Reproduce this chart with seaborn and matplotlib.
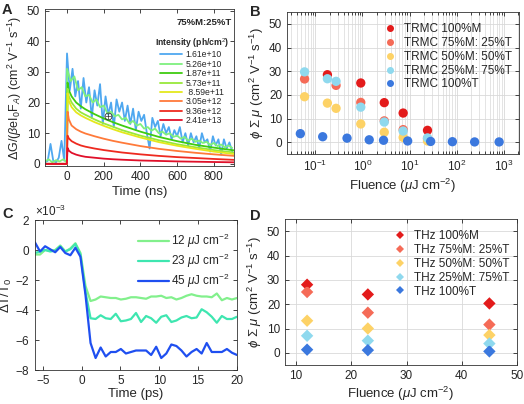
import numpy as np
import pandas as pd
import matplotlib
matplotlib.use("Agg")
import matplotlib.pyplot as plt
import seaborn as sns

# ---------------- Panel A data (TRMC transients, 75%M:25%T) ----------------
smooth_t = [-120, -1, 3, 10, 25, 50, 75, 100, 150, 200, 250, 300, 400, 500, 600, 700, 800, 910]
a_187e11 = [0, 0, 26.5, 24, 22, 20, 18.8, 17.8, 16.2, 14.8, 13.6, 12.5, 10.5, 8.8, 7.4, 6.2, 5.3, 4.4]
a_573e11 = [0, 0, 24.5, 22, 20, 18, 16.8, 16.0, 14.5, 13.2, 12.1, 11.0, 9.2, 7.7, 6.4, 5.4, 4.5, 3.7]
a_859e11 = [0, 0, 23, 20.5, 18.5, 16.8, 15.8, 15.0, 13.6, 12.4, 11.3, 10.3, 8.6, 7.1, 5.9, 4.9, 4.0, 3.2]
a_305e12 = [0, 0, 17, 14.5, 12.5, 11.3, 10.5, 9.9, 9.0, 8.2, 7.5, 6.9, 5.8, 4.9, 4.2, 3.6, 3.1, 2.6]
a_936e12 = [0, 0, 9.2, 8.3, 7.4, 6.6, 6.0, 5.6, 5.0, 4.5, 4.1, 3.7, 3.1, 2.6, 2.2, 1.9, 1.6, 1.3]
a_241e13 = [0, 0, 5.2, 4.3, 3.6, 3.0, 2.6, 2.3, 2.0, 1.7, 1.5, 1.35, 1.1, 0.95, 0.8, 0.7, 0.6, 0.5]

green_t = [-120, -100, -80, -60, -40, -20, -1,
           0, 20, 40, 60, 80, 100, 120, 140, 160, 180, 200, 220, 240, 260, 280, 300,
           320, 340, 360, 380, 400, 420, 440, 460, 480, 500, 520, 540, 560, 580, 600,
           620, 640, 660, 680, 700, 720, 740, 760, 780, 800, 820, 840, 860, 880, 900]
a_526e10 = [0.8, 1.5, 0.5, 1.2, 0.8, 1.5, 0.5,
            31, 27, 28.5, 24, 25, 22, 22.5, 20, 21, 18.5, 19, 16.5, 17, 15.5, 16, 14.5,
            15, 13.2, 14, 12.5, 13, 11.5, 12, 10.8, 11.5, 10, 10.5, 9.5, 10, 8.8, 9.2,
            8.2, 8.8, 7.6, 8.2, 7.2, 7.6, 6.8, 7.2, 6.2, 6.8, 5.8, 6.3, 5.4, 6.0, 5.2]

blue_t = [-120, -105, -90, -75, -60, -45, -30, -15,
          0, 15, 30, 45, 60, 75, 90, 105, 120, 135, 150, 165, 180, 195, 210, 225,
          240, 255, 270, 285, 300, 315, 330, 345, 360, 375, 390, 405, 420, 435, 450,
          465, 480, 495, 510, 525, 540, 555, 570, 585, 600, 615, 630, 645, 660, 675,
          690, 705, 720, 735, 750, 765, 780, 795, 810, 825, 840, 855, 870, 885, 900]
a_161e10 = [0.5, 1, 6.5, 1, 0.5, 2, 7.5, 1,
            36, 24, 31, 22, 27, 18, 28, 20, 25, 15, 24, 19, 26, 13, 22, 16,
            20, 12, 21, 17, 20, 14, 19, 13, 18, 11, 17, 14, 16, 10, 5,
            15, 12, 14, 9, 13, 10, 12, 8, 11, 9, 12, 7, 10, 6, 10,
            7, 9, 5, 10, 7, 8, 4, 9, 6, 8, 3, 8, 5, 7, 4]

intensity_labels = ["1.61e+10", "5.26e+10", "1.87e+11", "5.73e+11",
                    " 8.59e+11", "3.05e+12", "9.36e+12", "2.41e+13"]
intensity_colors = ["#4fa8f0", "#7ef07e", "#3fcc10", "#98e83a",
                    "#e4e81c", "#ff7a3a", "#ee2a20", "#e0102a"]

# ---------------- Panel B data (TRMC vs fluence) ----------------
samples = ["100%M", "75%M: 25%T", "50%M: 50%T", "25%M: 75%T", "100%T"]
sample_colors = ["#e31b1b", "#f56b57", "#fdd266", "#8fd9ee", "#3b78de"]
b_fluence = {
    "100%M": [0.18, 0.92, 2.9, 7.3, 24],
    "75%M: 25%T": [0.059, 0.275, 0.92, 2.9, 7.3, 24],
    "50%M: 50%T": [0.059, 0.18, 0.275, 0.92, 2.9, 7.3, 24],
    "25%M: 75%T": [0.059, 0.18, 0.275, 0.92, 2.9, 7.3, 24],
    "100%T": [0.048, 0.143, 0.47, 1.39, 2.8, 9.1, 28, 81, 240, 795],
}
b_mobility = {
    "100%M": [28.5, 25, 16.7, 12.3, 5],
    "75%M: 25%T": [26.7, 24, 16.8, 9, 5.3, 1.5],
    "50%M: 50%T": [19.2, 16.5, 14.3, 7.7, 4.2, 2, 0.5],
    "25%M: 75%T": [29.7, 26.8, 25.7, 14.8, 8.5, 4.7, 1.8],
    "100%T": [3.6, 2.3, 1.7, 1.0, 0.8, 0.5, 0.3, 0.2, 0.1, 0.1],
}

# ---------------- Panel C data (THz transients) ----------------
c_time = [-6.0, -5.35, -4.7, -4.05, -3.4, -2.75, -2.1, -1.45, -0.8, -0.15, 0.5, 1.15,
          1.8, 2.45, 3.1, 3.75, 4.4, 5.05, 5.7, 6.35, 7.0, 7.65, 8.3, 8.95, 9.6, 10.25,
          10.9, 11.55, 12.2, 12.85, 13.5, 14.15, 14.8, 15.45, 16.1, 16.75, 17.4, 18.05,
          18.7, 19.35, 20.0]
c_12 = [-0.3, -0.3, 0.0, -0.05, 0.0, 0.3, -0.1, 0.1, 0.45, -0.2, -2.4, -3.4,
        -3.3, -3.1, -3.15, -3.2, -3.2, -3.3, -3.25, -3.15, -3.15, -3.2, -3.25, -3.1, -3.1, -3.05,
        -3.2, -3.15, -3.3, -3.2, -3.05, -2.95, -3.05, -3.1, -3.1, -3.15, -2.9, -3.35,
        -3.2, -3.3, -3.2]
c_23 = [-0.2, -0.1, 0.0, -0.1, -0.05, 0.25, -0.1, 0.05, 0.4, -0.3, -2.8, -4.55,
        -4.6, -4.35, -4.55, -4.6, -4.25, -4.75, -4.7, -4.6, -4.2, -4.8, -4.4, -4.55, -4.85, -4.45,
        -4.35, -4.8, -4.7, -4.5, -4.4, -4.55, -4.5, -3.95, -4.15, -4.45, -4.85, -4.4,
        -4.6, -4.6, -4.45]
c_45 = [0.5, -0.1, 0.25, 0.05, -0.15, 0.2, -0.2, -0.35, 0.15, -0.45, -3.0, -6.2,
        -7.2, -6.5, -7.1, -6.8, -6.8, -6.6, -6.9, -6.8, -6.7, -6.7, -6.7, -7.0, -6.45, -7.2,
        -6.9, -6.3, -6.4, -6.7, -7.1, -6.8, -6.6, -6.9, -6.2, -6.8, -6.8, -6.8,
        -6.6, -6.85, -7.0]
c_labels = ["12 $\\mu$J cm$^{-2}$", "23 $\\mu$J cm$^{-2}$", "45 $\\mu$J cm$^{-2}$"]
c_colors = ["#82f08c", "#3ee6b0", "#1f4ff0"]

# ---------------- Panel D data (THz mobility vs fluence) ----------------
d_fluence = [12, 23, 45]
d_mobility = {
    "100%M": [28, 24, 20.3],
    "75%M: 25%T": [25, 16.5, 11.6],
    "50%M: 50%T": [13.2, 10, 7.3],
    "25%M: 75%T": [7, 5, 3.8],
    "100%T": [1.3, 1.1, 0.6],
}

sns.set_style("ticks")
plt.rcParams["font.family"] = ["Liberation Sans", "DejaVu Sans"]
plt.rcParams["mathtext.fontset"] = "custom"
plt.rcParams["mathtext.rm"] = "Liberation Sans"
plt.rcParams["mathtext.it"] = "Liberation Sans:italic"
plt.rcParams["axes.edgecolor"] = "0.2"
plt.rcParams["axes.linewidth"] = 0.6
plt.rcParams["xtick.direction"] = "in"
plt.rcParams["ytick.direction"] = "in"
plt.rcParams["xtick.top"] = True
plt.rcParams["ytick.right"] = True
plt.rcParams["xtick.major.size"] = 3
plt.rcParams["ytick.major.size"] = 3
plt.rcParams["xtick.major.width"] = 0.6
plt.rcParams["ytick.major.width"] = 0.6
plt.rcParams["xtick.labelsize"] = 8.5
plt.rcParams["ytick.labelsize"] = 8.5
plt.rcParams["xtick.color"] = "0.15"
plt.rcParams["ytick.color"] = "0.15"

W, H = 524, 404
fig = plt.figure(figsize=(W / 100, H / 100), dpi=100)


def box(l, t, r, b):
    return [l / W, 1 - b / H, (r - l) / W, (b - t) / H]


axA = fig.add_axes(box(45, 9, 234, 166))
axB = fig.add_axes(box(287, 12, 519, 154))
axC = fig.add_axes(box(35, 220, 237, 370))
axD = fig.add_axes(box(285, 219, 517, 365))

# ----- A -----
rows = []
for t, v in zip(blue_t, a_161e10):
    rows.append((t, v, intensity_labels[0]))
for t, v in zip(green_t, a_526e10):
    rows.append((t, v, intensity_labels[1]))
for lab, ser in zip(intensity_labels[2:], [a_187e11, a_573e11, a_859e11, a_305e12, a_936e12, a_241e13]):
    for t, v in zip(smooth_t, ser):
        rows.append((t, v, lab))
dfA = pd.DataFrame(rows, columns=["time", "signal", "intensity"])
sns.lineplot(data=dfA, x="time", y="signal", hue="intensity", hue_order=intensity_labels,
             palette=intensity_colors, sort=False, estimator=None, lw=1.3, ax=axA)
axA.plot([225], [15.5], marker="o", ms=5, mfc="none", mec="0.2", mew=0.6)
axA.plot([225], [15.5], marker="+", ms=5, mec="0.2", mew=0.5)
axA.set_xlim(-120, 910)
axA.set_ylim(-0.7, 50.5)
axA.set_xticks([0, 200, 400, 600, 800])
axA.set_yticks([0, 10, 20, 30, 40, 50])
axA.set_xlabel("Time (ns)", fontsize=9.5, labelpad=2)
axA.set_ylabel("$\\Delta$G/($\\beta$eI$_0$F$_A$) (cm$^2$ V$^{-1}$ s$^{-1}$)", fontsize=9, labelpad=2)
legA = axA.legend(title="Intensity (ph/cm$^2$)", loc="upper right", bbox_to_anchor=(1.0, 0.86),
                  frameon=False, fontsize=6.2, title_fontsize=6.2, handlelength=2.6,
                  labelspacing=0.05, handletextpad=0.4, borderaxespad=0.2)
legA.get_title().set_fontweight("bold")
axA.text(0.84, 0.885, "75%M:25%T", transform=axA.transAxes, fontsize=6.8,
         fontweight="bold", ha="center", va="bottom")

# ----- B -----
rows = []
for s in samples:
    for f, m in zip(b_fluence[s], b_mobility[s]):
        rows.append((f, m, "TRMC " + s))
dfB = pd.DataFrame(rows, columns=["fluence", "mobility", "sample"])
sns.scatterplot(data=dfB, x="fluence", y="mobility", hue="sample",
                hue_order=["TRMC " + s for s in samples], palette=sample_colors,
                s=45, linewidth=0, ax=axB)
axB.set_xscale("log")
axB.set_xlim(0.025, 2100)
axB.set_ylim(-5, 55)
axB.set_yticks([0, 10, 20, 30, 40, 50])
axB.grid(True, which="major", color="0.85", lw=0.6)
axB.grid(True, which="minor", axis="x", color="0.85", lw=0.5)
axB.set_xlabel("Fluence ($\\mu$J cm$^{-2}$)", fontsize=9.5, labelpad=2)
axB.set_ylabel("$\\phi$ $\\Sigma$ $\\mu$ (cm$^2$ V$^{-1}$ s$^{-1}$)", fontsize=9.5, labelpad=2)
axB.legend(loc="upper right", bbox_to_anchor=(1.0, 0.97), frameon=False, fontsize=8.5,
           labelspacing=0.15, handletextpad=0.2, borderaxespad=0.2, markerscale=0.75)

# ----- C -----
rows = []
for lab, ser in zip(c_labels, [c_12, c_23, c_45]):
    for t, v in zip(c_time, ser):
        rows.append((t, v * 1e-3, lab))
dfC = pd.DataFrame(rows, columns=["time", "dT", "fluence"])
sns.lineplot(data=dfC, x="time", y="dT", hue="fluence", hue_order=c_labels,
             palette=c_colors, sort=False, estimator=None, lw=1.6, ax=axC)
axC.set_xlim(-6, 20)
axC.set_ylim(-8e-3, 2e-3)
axC.set_xticks([-5, 0, 5, 10, 15, 20])
axC.set_yticks([-8e-3, -6e-3, -4e-3, -2e-3, 0, 2e-3])
axC.ticklabel_format(axis="y", style="sci", scilimits=(-3, -3), useMathText=True)
axC.yaxis.get_offset_text().set_fontsize(8.5)
axC.set_xlabel("Time (ps)", fontsize=9.5, labelpad=1)
axC.set_ylabel("$\\Delta$T/T$_0$", fontsize=9.5, labelpad=1)
axC.legend(loc="upper right", bbox_to_anchor=(1.0, 0.97), frameon=False, fontsize=8.5,
           handlelength=2.6, labelspacing=0.15, handletextpad=0.2, borderaxespad=0.2)

# ----- D -----
rows = []
for s in samples:
    for f, m in zip(d_fluence, d_mobility[s]):
        rows.append((f, m, "THz " + s))
dfD = pd.DataFrame(rows, columns=["fluence", "mobility", "sample"])
for s, c in zip(samples, sample_colors):
    sub = dfD[dfD["sample"] == "THz " + s]
    axD.errorbar(sub["fluence"], sub["mobility"], yerr=0.9, fmt="none", ecolor=c, elinewidth=1.2)
sns.scatterplot(data=dfD, x="fluence", y="mobility", hue="sample",
                hue_order=["THz " + s for s in samples], palette=sample_colors,
                marker="D", s=40, linewidth=0, ax=axD)
axD.set_xlim(8, 50)
axD.set_ylim(-5, 55)
axD.set_xticks([10, 20, 30, 40, 50])
axD.set_yticks([0, 10, 20, 30, 40, 50])
axD.grid(True, color="0.85", lw=0.6)
axD.set_xlabel("Fluence ($\\mu$J cm$^{-2}$)", fontsize=9.5, labelpad=2)
axD.set_ylabel("$\\phi$ $\\Sigma$ $\\mu$ (cm$^2$ V$^{-1}$ s$^{-1}$)", fontsize=9.5, labelpad=2)
axD.legend(loc="upper right", bbox_to_anchor=(1.0, 0.97), frameon=False, fontsize=8.5,
           labelspacing=0.15, handletextpad=0.2, borderaxespad=0.2, markerscale=0.6)

for ax in [axA, axB, axC, axD]:
    ax.set_axisbelow(True)

for lab, x, y in [("A", 2, 10), ("B", 250, 12), ("C", 2, 214), ("D", 250, 216)]:
    fig.text(x / W, 1 - y / H, lab, fontsize=10.5, fontweight="bold", ha="left", va="center")

fig.savefig("out.png", dpi=100)
